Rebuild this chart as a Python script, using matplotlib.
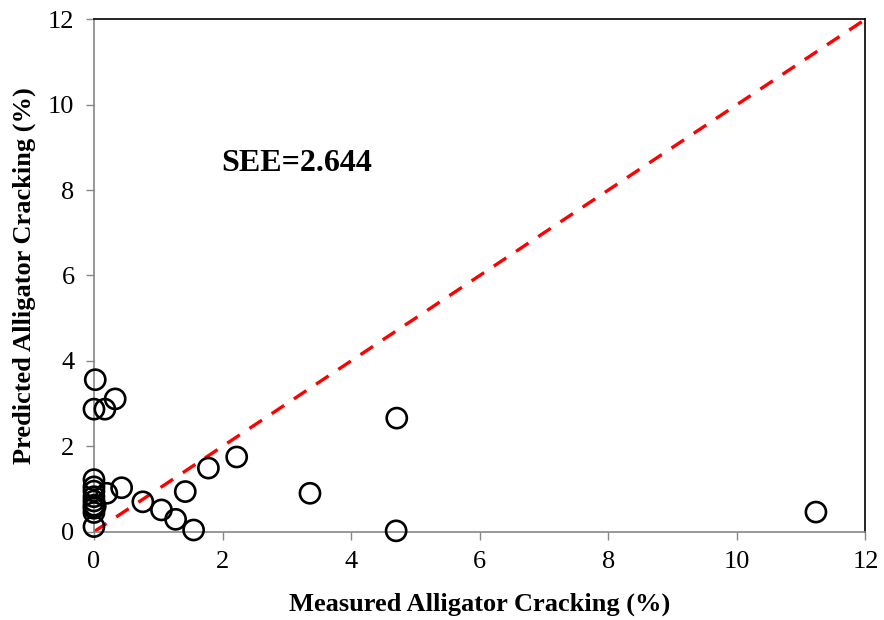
import matplotlib
matplotlib.use("Agg")
import matplotlib.pyplot as plt

# Measured vs. predicted alligator cracking (%)
measured = [0.02, 0.00, 0.17, 0.33,
            0.00, 0.00, 0.00, 0.00, 0.00, 0.00, 0.00, 0.00, 0.02, 0.00,
            0.20, 0.43, 0.76, 1.05, 1.27, 1.55, 1.42, 1.78, 2.22,
            3.36, 4.71, 4.70, 11.23]
predicted = [3.56, 2.87, 2.87, 3.11,
             1.22, 1.05, 0.95, 0.82, 0.72, 0.62, 0.55, 0.45, 0.60, 0.12,
             0.90, 1.03, 0.70, 0.51, 0.29, 0.04, 0.94, 1.49, 1.75,
             0.90, 2.66, 0.02, 0.46]
axis_ticks = [0, 2, 4, 6, 8, 10, 12]
see_label = "SEE=2.644"

plt.rcParams['font.family'] = ['Liberation Serif', 'DejaVu Serif']

fig = plt.figure(figsize=(8.84, 6.2), dpi=100)
ax = fig.add_axes([0.1063, 0.1424, 0.979 - 0.1063, 0.9689 - 0.1424])

# line of equality
ax.plot([0, 12], [0, 12], color='#ff0000', lw=2.4, dashes=(4.5, 3.5), zorder=2)

ax.scatter(measured, predicted, s=210, facecolors='none', edgecolors='black',
           linewidths=1.9, zorder=3, clip_on=False)

ax.set_xlim(0, 12)
ax.set_ylim(0, 12)
ax.set_xticks(axis_ticks)
ax.set_yticks(axis_ticks)
ax.tick_params(direction='out', length=6, width=1, color='#868686',
               labelsize=19, pad=8)

for side in ('left', 'bottom'):
    ax.spines[side].set_color('#868686')
    ax.spines[side].set_linewidth(1.2)
for side in ('top', 'right'):
    ax.spines[side].set_color('black')
    ax.spines[side].set_linewidth(1.2)

ax.set_xlabel('Measured Alligator Cracking (%)', fontsize=19,
              fontweight='bold', labelpad=14)
ax.set_ylabel('Predicted Alligator Cracking (%)', fontsize=19,
              fontweight='bold', labelpad=9)

ax.text(1.98, 8.62, see_label, fontsize=23, fontweight='bold',
        ha='left', va='center')

fig.savefig('out.png', dpi=100)
